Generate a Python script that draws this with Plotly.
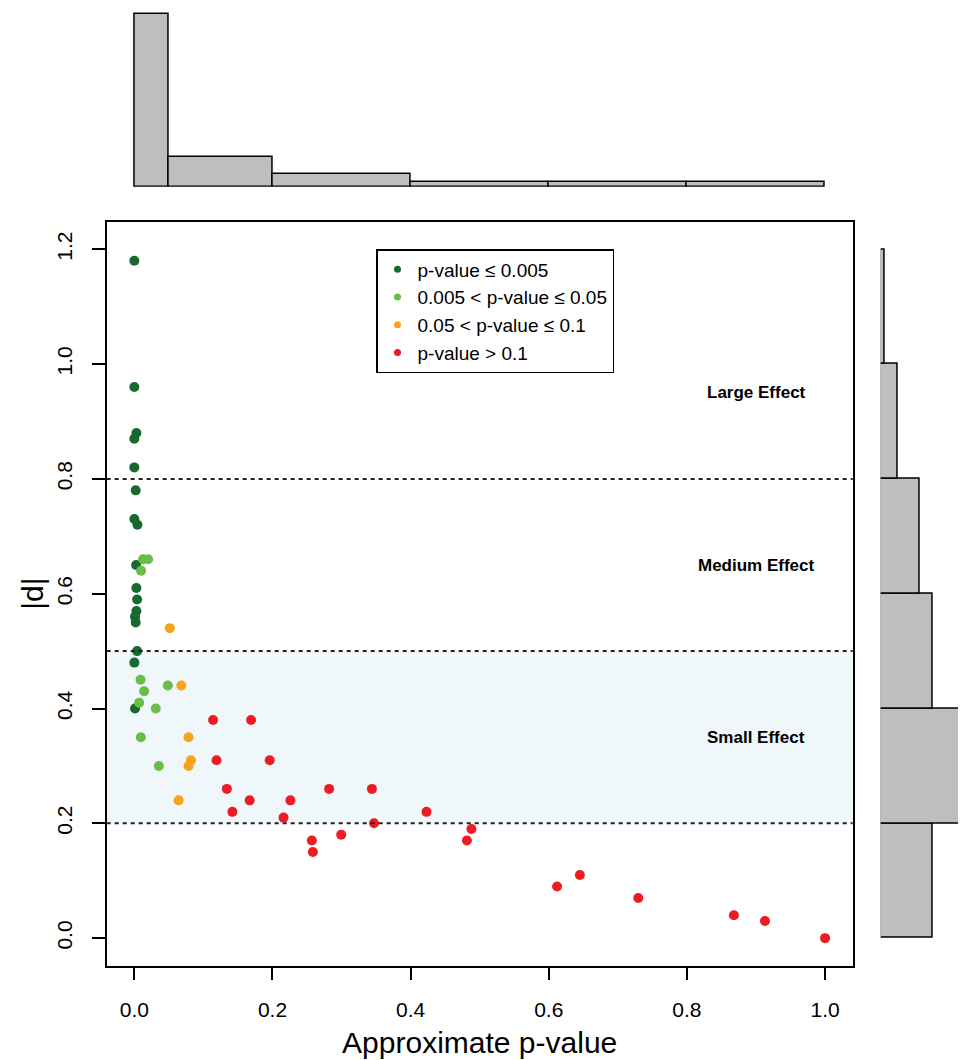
import plotly.graph_objects as go

# ---------------- data ----------------
dark_p = [0.000, 0.000, 0.003, 0.000, 0.000, 0.002, 0.000, 0.0045, 0.0026, 0.003, 0.004, 0.003, 0.001, 0.002, 0.004, 0.000, 0.001]
dark_d = [1.18, 0.96, 0.88, 0.87, 0.82, 0.78, 0.73, 0.72, 0.65, 0.61, 0.59, 0.57, 0.56, 0.55, 0.50, 0.48, 0.40]

light_p = [0.0127, 0.020, 0.0098, 0.009, 0.0485, 0.0142, 0.007, 0.031, 0.0094, 0.0355]
light_d = [0.66, 0.66, 0.64, 0.45, 0.44, 0.43, 0.41, 0.40, 0.35, 0.30]

orange_p = [0.0514, 0.068, 0.0785, 0.082, 0.0785, 0.064]
orange_d = [0.54, 0.44, 0.35, 0.31, 0.30, 0.24]

red_p = [0.114, 0.169, 0.119, 0.196, 0.134, 0.282, 0.344, 0.167, 0.226, 0.142, 0.423, 0.216,
         0.347, 0.488, 0.2995, 0.257, 0.4815, 0.2585, 0.645, 0.612, 0.7296, 0.868, 0.913, 1.0]
red_d = [0.38, 0.38, 0.31, 0.31, 0.26, 0.26, 0.26, 0.24, 0.24, 0.22, 0.22, 0.21,
         0.20, 0.19, 0.18, 0.17, 0.17, 0.15, 0.11, 0.09, 0.07, 0.04, 0.03, 0.00]

# marginal histograms (counts)
top_edges = [0.0, 0.05, 0.2, 0.4, 0.6, 0.8, 1.0]
top_counts = [27, 14, 8, 3, 3, 3]
right_edges = [0.0, 0.2, 0.4, 0.6, 0.8, 1.0, 1.2]
right_counts = [12, 20, 12, 9, 4, 1]

legend_labels = ["p-value \u2264 0.005", "0.005 < p-value \u2264 0.05",
                 "0.05 < p-value \u2264 0.1", "p-value > 0.1"]
colors = ["#17692F", "#6ABD45", "#F9A31B", "#ED1C24"]

effect_labels = ["Large Effect", "Medium Effect", "Small Effect"]
effect_y = [0.95, 0.65, 0.35]
effect_x = 0.9
thresholds = [0.2, 0.5, 0.8]

x_ticks = [0.0, 0.2, 0.4, 0.6, 0.8, 1.0]
y_ticks = [0.0, 0.2, 0.4, 0.6, 0.8, 1.0, 1.2]

FONT = "Liberation Sans, Arial, Helvetica, sans-serif"
OFF = 8                      # page body margin
PW, PH = 966, 1060           # page size
W, H = PW - OFF, PH - OFF    # figure size


def fx(p):  # page x pixel -> paper fraction
    return (p - OFF) / W


def fy(p):  # page y pixel (from top) -> paper fraction
    return (H - (p - OFF)) / H


# ---------------- figure ----------------
fig = go.Figure()

groups = [(dark_p, dark_d), (light_p, light_d), (orange_p, orange_d), (red_p, red_d)]
for (px_, dy), col in zip(groups, colors):
    fig.add_trace(go.Scatter(x=px_, y=dy, mode="markers", showlegend=False,
                             marker=dict(size=10, color=col, line=dict(width=0)),
                             xaxis="x", yaxis="y"))
# legend-only entries
for lab, col in zip(legend_labels, colors):
    fig.add_trace(go.Scatter(x=[None], y=[None], mode="markers", name=lab,
                             marker=dict(size=7, color=col, line=dict(width=0)),
                             xaxis="x", yaxis="y"))

# top histogram (density)
N = sum(top_counts)
top_w = [top_edges[i + 1] - top_edges[i] for i in range(len(top_counts))]
top_c = [(top_edges[i] + top_edges[i + 1]) / 2 for i in range(len(top_counts))]
top_dens = [c / (N * w) for c, w in zip(top_counts, top_w)]
fig.add_trace(go.Bar(x=top_c, y=top_dens, width=top_w, showlegend=False,
                     marker=dict(color="#BEBEBE", line=dict(color="black", width=1.5)),
                     xaxis="x2", yaxis="y2"))

# right histogram (counts)
r_w = [right_edges[i + 1] - right_edges[i] for i in range(len(right_counts))]
r_c = [(right_edges[i] + right_edges[i + 1]) / 2 for i in range(len(right_counts))]
fig.add_trace(go.Bar(x=right_counts, y=r_c, width=r_w, orientation="h", showlegend=False,
                     marker=dict(color="#BEBEBE", line=dict(color="black", width=1.5)),
                     xaxis="x3", yaxis="y3"))

# geometry (page pixels)
box_l, box_r, box_t, box_b = 106.7, 852.7, 221.7, 965.7
xdom = [fx(box_l), fx(box_r)]
ydom = [fy(box_b), fy(box_t)]
top_base, top_top = 186.7, 12.0
top_peak_px = 172.4
top_range_max = max(top_dens) * (top_base - top_top) / top_peak_px
right_base = 880.7
right_px_per_count = 4.3
right_range_max = (PW - right_base) / right_px_per_count

shapes = [dict(type="rect", xref="x domain", yref="y", x0=0, x1=1, y0=0.2, y1=0.5,
               fillcolor="#EFF7FB", line=dict(width=0), layer="below")]
for t in thresholds:
    shapes.append(dict(type="line", xref="x domain", yref="y", x0=0, x1=1, y0=t, y1=t,
                       line=dict(color="#222222", width=2, dash="4px,4px"), layer="above"))

annotations = [dict(x=effect_x, y=yy, xref="x", yref="y", text="<b>%s</b>" % lab,
                    showarrow=False, font=dict(family=FONT, size=17, color="black"))
               for lab, yy in zip(effect_labels, effect_y)]

axis_common = dict(showgrid=False, zeroline=False, showline=True, linecolor="black",
                   linewidth=1.5, mirror=True, ticks="outside", ticklen=13, tickwidth=1.5,
                   tickcolor="black", tickfont=dict(family=FONT, size=21, color="black"))

fig.update_layout(
    width=W, height=H, margin=dict(l=0, r=0, t=0, b=0),
    paper_bgcolor="white", plot_bgcolor="rgba(0,0,0,0)",
    font=dict(family=FONT, color="black"),
    xaxis=dict(domain=xdom, range=[-0.04, 1.04], tickvals=x_ticks,
               ticktext=["%.1f" % v for v in x_ticks], anchor="y", ticklabelstandoff=11,
               title=dict(text="Approximate p-value", font=dict(family=FONT, size=30), standoff=12),
               **axis_common),
    yaxis=dict(domain=ydom, range=[-0.048, 1.248], tickvals=y_ticks,
               ticktext=["%.1f" % v for v in y_ticks], tickangle=-90, anchor="x", ticklabelstandoff=12,
               title=dict(text="|d|", font=dict(family=FONT, size=30), standoff=0),
               **axis_common),
    xaxis2=dict(matches="x", domain=xdom, anchor="y2", visible=False),
    yaxis2=dict(domain=[fy(top_base), fy(top_top)], range=[0, top_range_max],
                anchor="x2", visible=False),
    xaxis3=dict(domain=[fx(right_base), 1.0], range=[0, right_range_max], anchor="y3", visible=False),
    yaxis3=dict(matches="y", domain=ydom, anchor="x3", visible=False),
    bargap=0,
    legend=dict(x=fx(376), y=fy(249), xanchor="left", yanchor="top",
                bordercolor="black", borderwidth=1.5, bgcolor="white",
                font=dict(family=FONT, size=19, color="black"), tracegroupgap=0),
    shapes=shapes, annotations=annotations,
)

fig.write_html("out.html")
